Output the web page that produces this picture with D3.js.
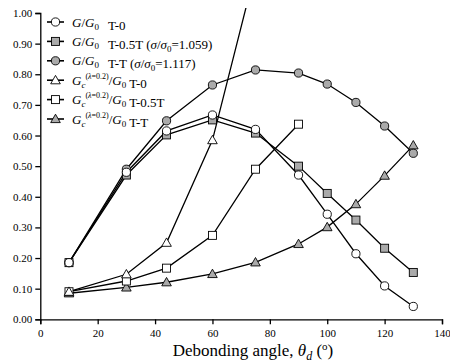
<!DOCTYPE html>
<html>
<head>
<meta charset="utf-8">
<script src="https://cdn.jsdelivr.net/npm/d3@7"></script>
<style>
body { margin: 0; background: #fff; }
text { font-family: "Liberation Serif", "Times New Roman", serif; }
</style>
</head>
<body>
<script>
// data
var xT0 = [10, 30, 44, 60, 75, 90, 100, 110, 120, 130];
var gT0 = [0.185, 0.48, 0.615, 0.667, 0.62, 0.471, 0.343, 0.214, 0.109, 0.042];
var gT05 = [0.185, 0.471, 0.602, 0.651, 0.608, 0.50, 0.411, 0.324, 0.232, 0.153];
var gTT = [0.185, 0.49, 0.648, 0.765, 0.814, 0.804, 0.768, 0.708, 0.631, 0.542];

var xGcT0 = [10, 30, 44, 60, 75];
var gcT0 = [0.09, 0.147, 0.25, 0.585, 1.14];
var xGcT05 = [10, 30, 44, 60, 75, 90];
var gcT05 = [0.09, 0.125, 0.167, 0.274, 0.49, 0.637];
var gcTT = [0.085, 0.104, 0.121, 0.148, 0.186, 0.246, 0.301, 0.376, 0.469, 0.568];

var xTicks = [0, 20, 40, 60, 80, 100, 120, 140];
var yTicks = [0, 0.1, 0.2, 0.3, 0.4, 0.5, 0.6, 0.7, 0.8, 0.9, 1.0];

var gray = "#aaaaaa";

var w = 450, h = 362;
var pLeft = 40.3, pRight = 442, pTop = 13, pBottom = 319.3;

var svg = d3.select("body")
            .append("svg")
            .attr("width", w)
            .attr("height", h);

var xScale = d3.scaleLinear().domain([0, 140]).range([pLeft, pRight]);
var yScale = d3.scaleLinear().domain([0, 1]).range([pBottom, pTop]);

svg.append("defs").append("clipPath")
    .attr("id", "clip")
  .append("rect")
    .attr("x", pLeft)
    .attr("y", pTop - 5)
    .attr("width", pRight - pLeft)
    .attr("height", pBottom - pTop + 5);

// axes
var yAxis = d3.axisLeft(yScale)
    .tickValues(yTicks)
    .tickFormat(d3.format(".2f"))
    .tickSize(5)
    .tickPadding(3);
var xAxis = d3.axisBottom(xScale)
    .tickValues(xTicks)
    .tickFormat(d3.format("d"))
    .tickSize(5)
    .tickPadding(5);

var gy = svg.append("g")
    .attr("transform", "translate(" + pLeft + ",0)")
    .call(yAxis);
var gx = svg.append("g")
    .attr("transform", "translate(0," + pBottom + ")")
    .call(xAxis);

[gx, gy].forEach(function(g) {
  g.select(".domain").attr("stroke", "#000").attr("stroke-width", 1.3);
  g.selectAll(".tick line").attr("stroke", "#000").attr("stroke-width", 1.3);
  g.selectAll(".tick text")
    .attr("fill", "#000")
    .style("font-family", "Liberation Serif")
    .style("font-size", "11px");
});

// markers
function drawMarker(g, type, fill, cx, cy) {
  if (type == "circle") {
    g.append("circle").attr("cx", cx).attr("cy", cy).attr("r", 4.1)
      .attr("fill", fill).attr("stroke", "#000").attr("stroke-width", 0.9);
  } else if (type == "square") {
    g.append("rect").attr("x", cx - 4).attr("y", cy - 4)
      .attr("width", 8).attr("height", 8)
      .attr("fill", fill).attr("stroke", "#000").attr("stroke-width", 0.9);
  } else {
    var s = 4.8;
    g.append("path")
      .attr("d", "M" + cx + "," + (cy - s) + "L" + (cx + s) + "," + (cy + s * 0.75) +
                 "L" + (cx - s) + "," + (cy + s * 0.75) + "Z")
      .attr("fill", fill).attr("stroke", "#000").attr("stroke-width", 0.9);
  }
}

var series = [
  { xs: xT0, ys: gT0, type: "circle", fill: "#fff" },
  { xs: xT0, ys: gT05, type: "square", fill: gray },
  { xs: xT0, ys: gTT, type: "circle", fill: gray },
  { xs: xGcT0, ys: gcT0, type: "triangle", fill: "#fff" },
  { xs: xGcT05, ys: gcT05, type: "square", fill: "#fff" },
  { xs: xT0, ys: gcTT, type: "triangle", fill: gray }
];

var line = d3.line()
    .x(function(d) { return xScale(d[0]); })
    .y(function(d) { return yScale(d[1]); });

var plot = svg.append("g").attr("clip-path", "url(#clip)");

series.forEach(function(s) {
  var pts = s.xs.map(function(x, i) { return [x, s.ys[i]]; });
  plot.append("path")
    .datum(pts)
    .attr("d", line)
    .attr("fill", "none")
    .attr("stroke", "#000")
    .attr("stroke-width", 1.3);
});

// markers drawn after the lines (order: last series on top)
series.slice().reverse().forEach(function(s) {
  s.xs.forEach(function(x, i) {
    if (s.ys[i] <= 1.0) drawMarker(plot, s.type, s.fill, xScale(x), yScale(s.ys[i]));
  });
});

// legend
var legendY = [22, 41.4, 60.8, 80.2, 99.6, 119];
var legend = svg.append("g");

function gOverG0(t) {
  t.append("tspan").style("font-style", "italic").text("G");
  t.append("tspan").text("/");
  t.append("tspan").style("font-style", "italic").text("G");
  t.append("tspan").attr("dy", 3).style("font-size", "9px").text("0");
  t.append("tspan").attr("dy", -3).text("");
}
function gcOverG0(t) {
  t.append("tspan").style("font-style", "italic").text("G");
  t.append("tspan").attr("dy", 3).style("font-size", "9px").style("font-style", "italic").text("c");
  t.append("tspan").attr("dy", -9).style("font-size", "8px").text("(");
  t.append("tspan").style("font-size", "8px").style("font-style", "italic").text("λ");
  t.append("tspan").style("font-size", "8px").text("=0.2)");
  t.append("tspan").attr("dy", 6).text("/");
  t.append("tspan").style("font-style", "italic").text("G");
  t.append("tspan").attr("dy", 3).style("font-size", "9px").text("0");
  t.append("tspan").attr("dy", -3).text("");
}
function sigma(t, val) {
  t.append("tspan").text("(");
  t.append("tspan").style("font-style", "italic").text("σ");
  t.append("tspan").text("/");
  t.append("tspan").style("font-style", "italic").text("σ");
  t.append("tspan").attr("dy", 3).style("font-size", "9px").text("0");
  t.append("tspan").attr("dy", -3).text("=" + val + ")");
}

var legendLabels = [
  function(t) { gOverG0(t); t.append("tspan").attr("dx", 9).text("T-0"); },
  function(t) { gOverG0(t); t.append("tspan").attr("dx", 9).text("T-0.5T "); sigma(t, "1.059"); },
  function(t) { gOverG0(t); t.append("tspan").attr("dx", 9).text("T-T "); sigma(t, "1.117"); },
  function(t) { gcOverG0(t); t.append("tspan").attr("dx", 3).text("T-0"); },
  function(t) { gcOverG0(t); t.append("tspan").attr("dx", 3).text("T-0.5T"); },
  function(t) { gcOverG0(t); t.append("tspan").attr("dx", 3).text("T-T"); }
];

series.forEach(function(s, i) {
  var y = legendY[i];
  legend.append("line")
    .attr("x1", 47).attr("x2", 64)
    .attr("y1", y).attr("y2", y)
    .attr("stroke", "#000").attr("stroke-width", 1.6);
  drawMarker(legend, s.type, s.fill, 55.5, y);
  var t = legend.append("text")
    .attr("x", 72)
    .attr("y", y + 4.5)
    .style("font-size", "13px")
    .attr("fill", "#000");
  legendLabels[i](t);
});

// axis title
var title = svg.append("text")
    .attr("x", 253)
    .attr("y", 356)
    .attr("text-anchor", "middle")
    .style("font-size", "17px")
    .attr("fill", "#000");
title.append("tspan").text("Debonding angle, ");
title.append("tspan").style("font-style", "italic").text("θ");
title.append("tspan").attr("dy", 4).style("font-size", "12px").style("font-style", "italic").text("d");
title.append("tspan").attr("dy", -4).text(" (");
title.append("tspan").attr("dy", -6).style("font-size", "11px").text("o");
title.append("tspan").attr("dy", 6).text(")");
</script>
</body>
</html>
